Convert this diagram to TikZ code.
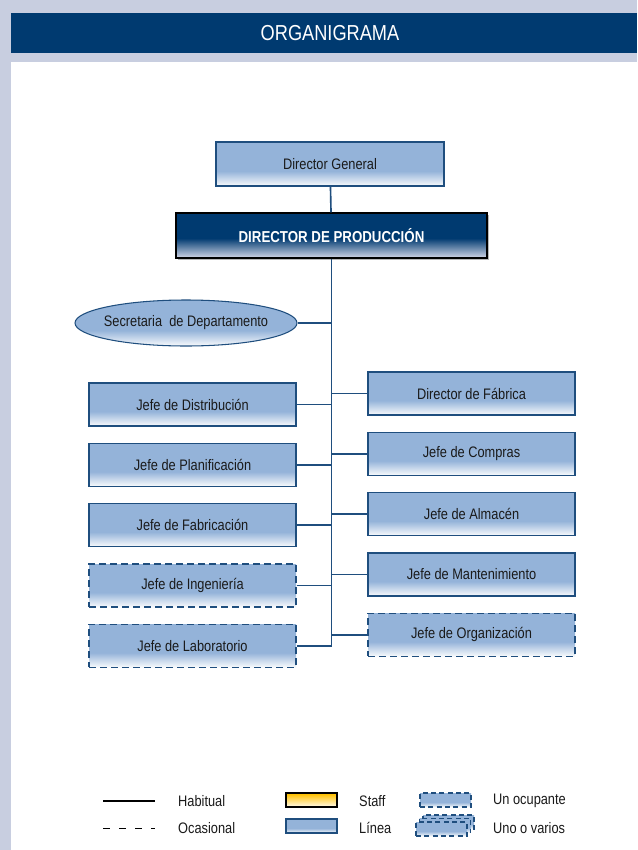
\documentclass[tikz,border=0pt]{standalone}
\usepackage{fontspec}
\setmainfont{Liberation Sans}[FakeStretch=0.84]
\usepackage{xcolor}
\definecolor{pageLav}{HTML}{C8CEE0}
\definecolor{headNavy}{HTML}{003A70}
\definecolor{boxBlue}{HTML}{94B3D9}
\definecolor{edgeBlue}{HTML}{1F4E7E}
\definecolor{prodBottom}{HTML}{D4D8E8}
\definecolor{staffGold}{HTML}{FFC000}
\definecolor{darkText}{HTML}{1A1A1A}
\usepackage{tikz}
\usetikzlibrary{
    shapes.geometric,
    shadows,
    positioning
}
% vertical fades used by the boxes
\pgfdeclareverticalshading{boxfade}{100bp}{color(0bp)=(boxBlue!5!white); color(25bp)=(boxBlue!5!white); color(42bp)=(boxBlue); color(100bp)=(boxBlue)}
\pgfdeclareverticalshading{prodfade}{100bp}{color(0bp)=(prodBottom); color(25bp)=(prodBottom); color(47bp)=(headNavy); color(100bp)=(headNavy)}
\pgfdeclareverticalshading{stafffade}{100bp}{color(0bp)=(staffGold!6!white); color(25bp)=(staffGold!6!white); color(72bp)=(staffGold); color(100bp)=(staffGold)}
\tikzset{
    % Base style for all boxes
    chart base/.style={
        font=\fontsize{13}{15}\selectfont,
        align=center,
        text=darkText,
        minimum width=62.1mm,
        minimum height=12.9mm,
        inner sep=0pt,
    },
    % Line position - blue box, solid edge
    linebox/.style={
        chart base,
        rectangle,
        draw=edgeBlue,
        line width=0.9pt,
        shade,
        shading=boxfade,
    },
    % Occasional position - dashed edge
    occbox/.style={
        linebox,
        dash pattern=on 2.1mm off 1.2mm,
    },
    % Head of the department
    prodbox/.style={
        chart base,
        rectangle,
        draw=black,
        line width=1.1pt,
        shade,
        shading=prodfade,
        text=white,
        font=\fontsize{13.5}{15}\selectfont\bfseries,
        minimum width=93.3mm,
        minimum height=13.5mm,
        drop shadow={shadow xshift=0.5mm, shadow yshift=-0.5mm, fill=black!55},
    },
    % Secretary ellipse (text set as a centred label)
    secbox/.style={
        chart base,
        ellipse,
        draw=edgeBlue,
        line width=0.9pt,
        shade,
        shading=boxfade,
        minimum width=66.6mm,
        minimum height=13.8mm,
    },
    % Staff key
    staffbox/.style={
        chart base,
        rectangle,
        draw=black,
        line width=0.9pt,
        shade,
        shading=stafffade,
    },
    % small key boxes
    keysize/.style={minimum width=15.3mm, minimum height=4.2mm},
    keydash/.style={dash pattern=on 1.5mm off 1mm},
    % Connectors
    link/.style={
        draw=edgeBlue,
        line width=1.4pt,
    },
    % Legend texts
    legtext/.style={
        font=\fontsize{13}{15}\selectfont,
        text=darkText,
        anchor=west,
        inner sep=0pt,
    },
}

\begin{document}
\begin{tikzpicture}[x=0.3mm, y=-0.3mm, node distance=18.1mm]
    \useasboundingbox (0,0) rectangle (637,850);
    % page and header band
    \fill [pageLav] (0,0) rectangle (637,850);
    \fill [white] (11,62) rectangle (637,850);
    \fill [headNavy] (11,13) rectangle (637,53);
    \node (title) [font=\fontsize{18.5}{20}\selectfont, text=white] at (330,33) {ORGANIGRAMA};

    \node (dirgen) [linebox, minimum width=68.4mm, minimum height=13.2mm] at (330,164) {Director General};
    \node (dirprod) [prodbox] at (331.5,235.5) {DIRECTOR DE PRODUCCIÓN};
    \node (secre) [secbox, label={[chart base, minimum width=0pt, minimum height=0pt]center:Secretaria\ \ de Departamento}] at (186,323) {};

    \node (distrib) [linebox] at (192.5,404.5) {Jefe de Distribución};
    \node (planif) [linebox, below of=distrib] {Jefe de Planificación};
    \node (fabric) [linebox, below of=planif] {Jefe de Fabricación};
    \node (ingen) [occbox, below of=fabric] {Jefe de Ingeniería};
    \node (labor) [occbox, below of=ingen] {Jefe de Laboratorio};

    \node (dirfab) [linebox] at (471.5,393.5) {Director de Fábrica};
    \node (compras) [linebox, below of=dirfab] {Jefe de Compras};
    \node (almacen) [linebox, below of=compras] {Jefe de Almacén};
    \node (manten) [linebox, below of=almacen] {Jefe de Mantenimiento};
    \node (organiz) [occbox, below of=manten] {Jefe de Organización};

    \draw [link] (dirgen) -- (dirprod);
    \draw [link] (dirprod) |- (labor);
    \foreach \n in {secre,distrib,planif,fabric,ingen,dirfab,compras,almacen,manten,organiz}
        \draw [link] (\n) -- (\n -| dirprod);

    % legend
    \coordinate (habA) at (103,801);
    \coordinate (habB) at (155,801);
    \coordinate (ocaA) at (103,828);
    \coordinate (ocaB) at (155,828);
    \draw [line width=1pt] (habA) -- (habB);
    \draw [line width=0.8pt, dash pattern=on 2.1mm off 2.7mm] (ocaA) -- (ocaB);
    \node (habtxt) [legtext] at (178,801) {Habitual};
    \node (ocatxt) [legtext] at (178,828) {Ocasional};

    \node (staffkey) [staffbox, keysize] at (311.5,800) {};
    \node (lineakey) [linebox, keysize] at (311.5,826) {};
    \node (stafftxt) [legtext] at (359,801) {Staff};
    \node (lineatxt) [legtext] at (359,828) {Línea};

    \node (unokey) [linebox, keysize, keydash] at (445.5,800) {};
    \node (variosC) [linebox, keysize, keydash] at (448.5,822) {};
    \node (variosB) [linebox, keysize, keydash] at (445,825.5) {};
    \node (variosA) [linebox, keysize, keydash] at (441.5,829) {};
    \node (unotxt) [legtext] at (493,801) {Un ocupante};
    \node (variostxt) [legtext] at (493,828) {Uno o varios};
\end{tikzpicture}
\end{document}
